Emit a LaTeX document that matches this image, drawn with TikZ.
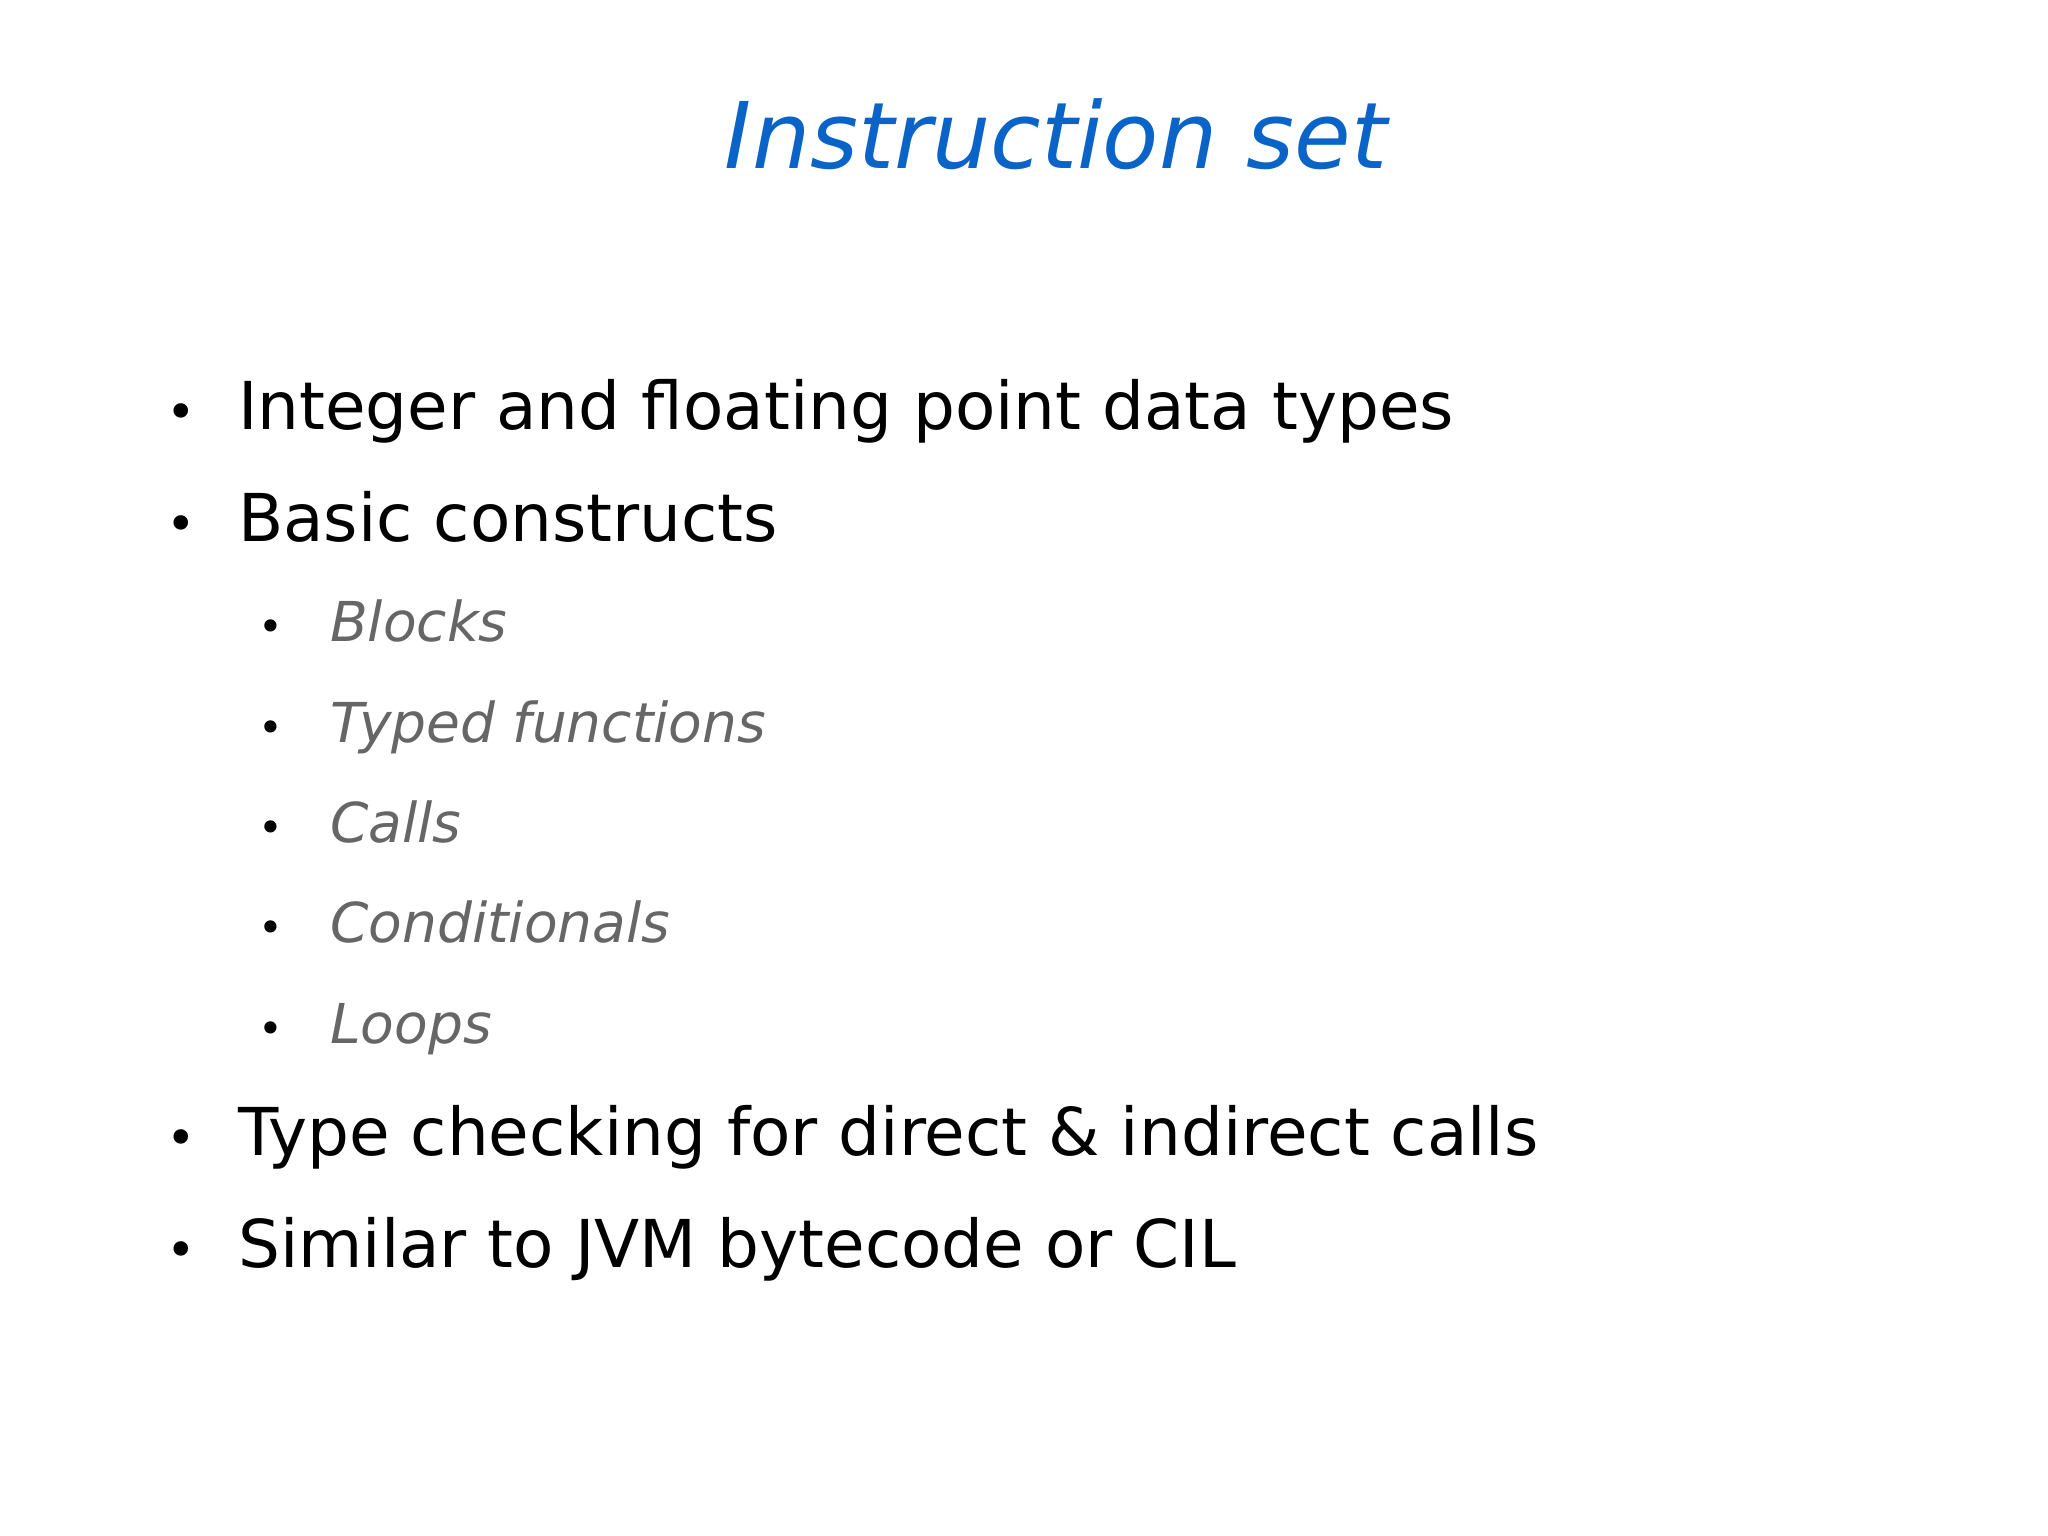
\documentclass[tikz,border=0pt]{standalone}
\usepackage{fontspec}
\setmainfont{DejaVu Sans}
\definecolor{titleblue}{HTML}{0A64C8}
\definecolor{subgray}{HTML}{666666}
\begin{document}
\begin{tikzpicture}[x=1pt,y=-1pt,
  lone/.style={anchor=base west,inner sep=0pt,font=\fontsize{66}{70}\selectfont,text=black},
  ltwo/.style={anchor=base west,inner sep=0pt,font=\fontsize{55}{60}\selectfont\itshape,text=subgray},
  bone/.style={anchor=base,inner sep=0pt,font=\fontsize{50}{60}\selectfont,text=black},
  btwo/.style={anchor=base,inner sep=0pt,font=\fontsize{42}{50}\selectfont,text=black}]
\useasboundingbox[fill=white] (0,0) rectangle (2048,1535);
\node[anchor=base,inner sep=0pt,font=\fontsize{92}{100}\selectfont\itshape,text=titleblue] (title) at (1056,168) {Instruction set};
\foreach \n/\y/\t in {a/429/Integer and floating point data types, b/541/Basic constructs, c/1155/Type checking for direct \& indirect calls, d/1267/Similar to JVM bytecode or CIL}{
  \node[bone] (b\n) at (181,\y) {•};
  \node[lone] (t\n) at (238,\y) {\t};
}
\foreach \n/\y/\t in {e/641/Blocks, f/742/Typed functions, g/842/Calls, h/942/Conditionals, i/1043/Loops}{
  \node[btwo] (b\n) at (271,\y) {•};
  \node[ltwo] (t\n) at (330,\y) {\t};
}
\end{tikzpicture}
\end{document}
